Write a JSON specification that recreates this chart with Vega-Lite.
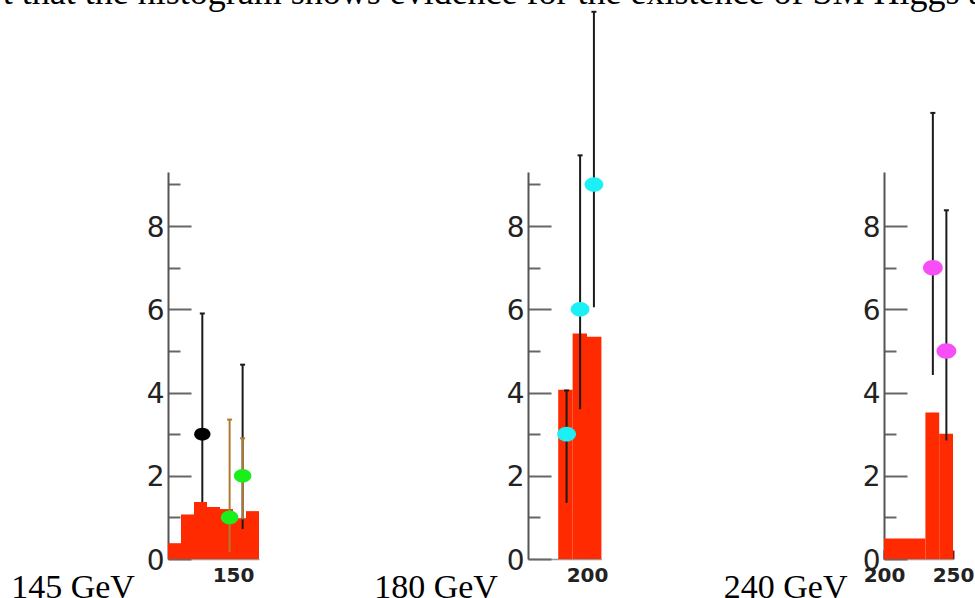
{
  "$schema": "https://vega.github.io/schema/vega-lite/v6.json",
  "background": "white",
  "autosize": {"type": "pad"},
  "padding": {"left": 2, "top": -26, "right": 0, "bottom": 0},
  "title": {
    "text": "t that the histogram shows evidence for the existence of SM Higgs at",
    "anchor": "start",
    "frame": "bounds",
    "font": "Liberation Serif",
    "fontSize": 36,
    "fontWeight": "normal",
    "color": "#000000",
    "baseline": "alphabetic",
    "offset": -32,
    "dx": -8
  },
  "datasets": {
    "hist": [
      {"panel": "145", "lo": 125, "hi": 130, "n": 0.38},
      {"panel": "145", "lo": 130, "hi": 135, "n": 1.07},
      {"panel": "145", "lo": 135, "hi": 140, "n": 1.37},
      {"panel": "145", "lo": 140, "hi": 145, "n": 1.25},
      {"panel": "145", "lo": 145, "hi": 150, "n": 1.2},
      {"panel": "145", "lo": 150, "hi": 155, "n": 0.98},
      {"panel": "145", "lo": 155, "hi": 160, "n": 1.15},
      {"panel": "180", "lo": 190, "hi": 195, "n": 4.07},
      {"panel": "180", "lo": 195, "hi": 200, "n": 5.42},
      {"panel": "180", "lo": 200, "hi": 205, "n": 5.34},
      {"panel": "240", "lo": 200, "hi": 230, "n": 0.49},
      {"panel": "240", "lo": 230, "hi": 240, "n": 3.52},
      {"panel": "240", "lo": 240, "hi": 250, "n": 3.01}
    ],
    "err": [
      {"panel": "145", "mass": 138.2, "lo": 1.37, "hi": 5.9, "kind": "a"},
      {"panel": "145", "mass": 148.7, "lo": 0.17, "hi": 3.35, "kind": "b"},
      {"panel": "145", "mass": 153.7, "lo": 0.72, "hi": 4.67, "kind": "a"},
      {"panel": "145", "mass": 153.7, "lo": 0.95, "hi": 2.9, "kind": "b"},
      {"panel": "180", "mass": 192.9, "lo": 1.35, "hi": 4.05, "kind": "a"},
      {"panel": "180", "mass": 197.6, "lo": 3.6, "hi": 9.7, "kind": "a"},
      {"panel": "180", "mass": 202.4, "lo": 6.05, "hi": 13.15, "kind": "a"},
      {"panel": "240", "mass": 235.4, "lo": 4.42, "hi": 10.72, "kind": "a"},
      {"panel": "240", "mass": 245.2, "lo": 2.85, "hi": 8.38, "kind": "a"}
    ],
    "pts": [
      {"panel": "145", "mass": 138.2, "n": 3, "series": "s1"},
      {"panel": "145", "mass": 148.7, "n": 1, "series": "s2"},
      {"panel": "145", "mass": 153.7, "n": 2, "series": "s2"},
      {"panel": "180", "mass": 192.9, "n": 3, "series": "s3"},
      {"panel": "180", "mass": 197.6, "n": 6, "series": "s3"},
      {"panel": "180", "mass": 202.4, "n": 9, "series": "s3"},
      {"panel": "240", "mass": 235.4, "n": 7, "series": "s4"},
      {"panel": "240", "mass": 245.2, "n": 5, "series": "s4"}
    ]
  },
  "config": {
    "view": {"stroke": null},
    "axisY": {
      "title": null,
      "grid": false,
      "labelExpr": "datum.value % 2 == 0 ? datum.label : ''",
      "labelOverlap": false,
      "labelFont": "DejaVu Sans",
      "labelFontSize": 28,
      "labelFontWeight": "normal",
      "labelColor": "#222222",
      "labelPadding": 27,
      "labelOffset": 2,
      "labelBaseline": "middle",
      "tickColor": "#666666",
      "tickWidth": 2,
      "tickSize": {"condition": {"test": "datum.value % 2 == 0", "value": -23}, "value": -12},
      "domainColor": "#555555",
      "domainWidth": 2
    },
    "axisX": {
      "grid": false,
      "labelFlush": false,
      "labelOverlap": false,
      "labelFont": "DejaVu Sans",
      "labelFontSize": 20,
      "labelFontWeight": "bold",
      "labelColor": "#222222",
      "labelPadding": 15,
      "tickSize": -9,
      "tickColor": "#7a1a10",
      "tickWidth": 2,
      "domainColor": "#999999",
      "domainWidth": 1.5,
      "titleFont": "Liberation Serif",
      "titleFontSize": 34,
      "titleFontWeight": "normal",
      "titleColor": "#000000",
      "titleAlign": "left",
      "titleBaseline": "alphabetic",
      "titleY": 38
    }
  },
  "spacing": 269,
  "bounds": "flush",
  "hconcat": [
    {
      "width": 91,
      "height": 387,
      "layer": [
        {
          "data": {"name": "hist"},
          "transform": [{"filter": "datum.panel == '145'"}],
          "mark": {"type": "bar", "color": "#ff2a00", "clip": false},
          "encoding": {
            "x": {"field": "lo", "type": "quantitative", "scale": {"domain": [125, 160], "nice": false, "zero": false},
                  "axis": {"values": [150], "title": "145 GeV", "titleX": -157.3}},
            "x2": {"field": "hi"},
            "y": {"field": "n", "type": "quantitative", "scale": {"domain": [0, 9.3], "nice": false},
                  "axis": {"values": [0, 0.5, 1, 1.5, 2, 2.5, 3, 3.5, 4, 4.5, 5, 5.5, 6, 6.5, 7, 7.5, 8, 8.5, 9]}},
            "y2": {"datum": 0}
          }
        },
        {
          "data": {"name": "err"},
          "transform": [{"filter": "datum.panel == '145'"}],
          "mark": {"type": "rule", "strokeWidth": 2, "clip": false},
          "encoding": {
            "x": {"field": "mass", "type": "quantitative"},
            "y": {"field": "lo", "type": "quantitative"},
            "y2": {"field": "hi"},
            "color": {"field": "kind", "type": "nominal", "scale": {"domain": ["a", "b"], "range": ["#1a1a1a", "#b07a34"]}, "legend": null}
          }
        },
        {
          "data": {"name": "err"},
          "transform": [{"filter": "datum.panel == '145'"}],
          "mark": {"type": "point", "shape": "stroke", "size": 25, "strokeWidth": 2, "filled": false, "opacity": 1, "clip": false},
          "encoding": {
            "x": {"field": "mass", "type": "quantitative"},
            "y": {"field": "hi", "type": "quantitative"},
            "color": {"field": "kind", "type": "nominal", "legend": null}
          }
        },
        {
          "data": {"name": "pts"},
          "transform": [{"filter": "datum.panel == '145'"}],
          "mark": {"type": "point", "shape": "M -1 0 A 1 0.78 0 1 1 1 0 A 1 0.78 0 1 1 -1 0 Z", "filled": true, "opacity": 1, "strokeWidth": 0, "clip": false},
          "encoding": {
            "x": {"field": "mass", "type": "quantitative"},
            "y": {"field": "n", "type": "quantitative"},
            "fill": {"field": "series", "type": "nominal", "scale": {"domain": ["s1", "s2", "s3", "s4"], "range": ["#000000", "#1bef1b", "#1cf0f4", "#f84ef8"]}, "legend": null},
            "size": {"field": "series", "type": "ordinal", "scale": {"domain": ["s1", "s2", "s3", "s4"], "range": [265, 395, 395, 395]}, "legend": null}
          }
        }
      ]
    },
    {
      "spacing": 282,
      "bounds": "flush",
      "hconcat": [
        {
          "width": 73.4,
          "height": 387,
          "layer": [
            {
              "data": {"name": "hist"},
              "transform": [{"filter": "datum.panel == '180'"}],
              "mark": {"type": "bar", "color": "#ff2a00", "clip": false},
              "encoding": {
                "x": {"field": "lo", "type": "quantitative", "scale": {"domain": [179.5, 205], "nice": false, "zero": false},
                      "axis": {"values": [200], "title": "180 GeV", "titleX": -154.3}},
                "x2": {"field": "hi"},
                "y": {"field": "n", "type": "quantitative", "scale": {"domain": [0, 9.3], "nice": false},
                      "axis": {"values": [0, 0.5, 1, 1.5, 2, 2.5, 3, 3.5, 4, 4.5, 5, 5.5, 6, 6.5, 7, 7.5, 8, 8.5, 9]}},
                "y2": {"datum": 0}
              }
            },
            {
              "data": {"name": "err"},
              "transform": [{"filter": "datum.panel == '180'"}],
              "mark": {"type": "rule", "strokeWidth": 2, "clip": false},
              "encoding": {
                "x": {"field": "mass", "type": "quantitative"},
                "y": {"field": "lo", "type": "quantitative"},
                "y2": {"field": "hi"},
                "color": {"field": "kind", "type": "nominal", "scale": {"domain": ["a", "b"], "range": ["#1a1a1a", "#b07a34"]}, "legend": null}
              }
            },
            {
              "data": {"name": "err"},
              "transform": [{"filter": "datum.panel == '180'"}],
              "mark": {"type": "point", "shape": "stroke", "size": 25, "strokeWidth": 2, "filled": false, "opacity": 1, "clip": false},
              "encoding": {
                "x": {"field": "mass", "type": "quantitative"},
                "y": {"field": "hi", "type": "quantitative"},
                "color": {"field": "kind", "type": "nominal", "legend": null}
              }
            },
            {
              "data": {"name": "pts"},
              "transform": [{"filter": "datum.panel == '180'"}],
              "mark": {"type": "point", "shape": "M -1 0 A 1 0.78 0 1 1 1 0 A 1 0.78 0 1 1 -1 0 Z", "filled": true, "opacity": 1, "strokeWidth": 0, "clip": false},
              "encoding": {
                "x": {"field": "mass", "type": "quantitative"},
                "y": {"field": "n", "type": "quantitative"},
                "fill": {"field": "series", "type": "nominal", "scale": {"domain": ["s1", "s2", "s3", "s4"], "range": ["#000000", "#1bef1b", "#1cf0f4", "#f84ef8"]}, "legend": null},
                "size": {"field": "series", "type": "ordinal", "scale": {"domain": ["s1", "s2", "s3", "s4"], "range": [265, 395, 395, 395]}, "legend": null}
              }
            }
          ]
        },
        {
          "width": 69,
          "height": 387,
          "layer": [
            {
              "data": {"name": "hist"},
              "transform": [{"filter": "datum.panel == '240'"}],
              "mark": {"type": "bar", "color": "#ff2a00", "clip": false},
              "encoding": {
                "x": {"field": "lo", "type": "quantitative", "scale": {"domain": [200, 250], "nice": false, "zero": false},
                      "axis": {"values": [200, 250], "title": "240 GeV", "titleX": -160.7}},
                "x2": {"field": "hi"},
                "y": {"field": "n", "type": "quantitative", "scale": {"domain": [0, 9.3], "nice": false},
                      "axis": {"values": [0, 0.5, 1, 1.5, 2, 2.5, 3, 3.5, 4, 4.5, 5, 5.5, 6, 6.5, 7, 7.5, 8, 8.5]}},
                "y2": {"datum": 0}
              }
            },
            {
              "data": {"name": "err"},
              "transform": [{"filter": "datum.panel == '240'"}],
              "mark": {"type": "rule", "strokeWidth": 2, "clip": false},
              "encoding": {
                "x": {"field": "mass", "type": "quantitative"},
                "y": {"field": "lo", "type": "quantitative"},
                "y2": {"field": "hi"},
                "color": {"field": "kind", "type": "nominal", "scale": {"domain": ["a", "b"], "range": ["#1a1a1a", "#b07a34"]}, "legend": null}
              }
            },
            {
              "data": {"name": "err"},
              "transform": [{"filter": "datum.panel == '240'"}],
              "mark": {"type": "point", "shape": "stroke", "size": 25, "strokeWidth": 2, "filled": false, "opacity": 1, "clip": false},
              "encoding": {
                "x": {"field": "mass", "type": "quantitative"},
                "y": {"field": "hi", "type": "quantitative"},
                "color": {"field": "kind", "type": "nominal", "legend": null}
              }
            },
            {
              "data": {"name": "pts"},
              "transform": [{"filter": "datum.panel == '240'"}],
              "mark": {"type": "point", "shape": "M -1 0 A 1 0.78 0 1 1 1 0 A 1 0.78 0 1 1 -1 0 Z", "filled": true, "opacity": 1, "strokeWidth": 0, "clip": false},
              "encoding": {
                "x": {"field": "mass", "type": "quantitative"},
                "y": {"field": "n", "type": "quantitative"},
                "fill": {"field": "series", "type": "nominal", "scale": {"domain": ["s1", "s2", "s3", "s4"], "range": ["#000000", "#1bef1b", "#1cf0f4", "#f84ef8"]}, "legend": null},
                "size": {"field": "series", "type": "ordinal", "scale": {"domain": ["s1", "s2", "s3", "s4"], "range": [265, 395, 395, 395]}, "legend": null}
              }
            }
          ]
        }
      ]
    }
  ]
}
